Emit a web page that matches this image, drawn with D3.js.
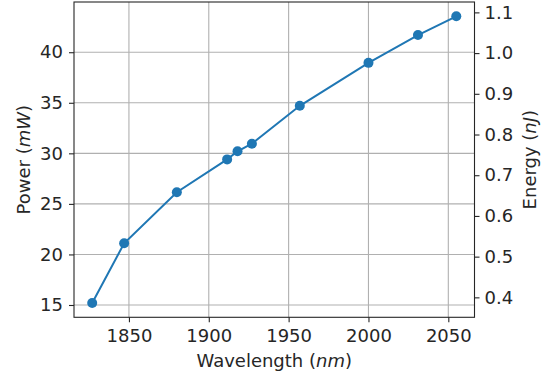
<!DOCTYPE html>
<html><head><meta charset="utf-8">
<script src="https://cdn.jsdelivr.net/npm/d3@7"></script>
<style>body{margin:0;background:#fff}svg{display:block}text{font-family:"DejaVu Sans",sans-serif;fill:#262626}</style>
</head><body>
<script>
const wavelength = [1827, 1847, 1880, 1911.5, 1918, 1927, 1957, 2000, 2031, 2055];
const power = [15.2, 21.1, 26.15, 29.4, 30.2, 30.95, 34.7, 38.95, 41.7, 43.55];
const xTicks = [1850, 1900, 1950, 2000, 2050];
const yTicks = [15, 20, 25, 30, 35, 40];
const eTicks = [0.4, 0.5, 0.6, 0.7, 0.8, 0.9, 1.0, 1.1];

const W = 545, H = 378;
const m = {left: 74, right: 474.5, top: 2, bottom: 317.3};
const svg = d3.select("body").append("svg").attr("width", W).attr("height", H);

const xpad = (d3.max(wavelength) - d3.min(wavelength)) * 0.05;
const x = d3.scaleLinear().domain([d3.min(wavelength) - xpad, d3.max(wavelength) + xpad]).range([m.left, m.right]);
const ypad = (d3.max(power) - d3.min(power)) * 0.05;
const y = d3.scaleLinear().domain([d3.min(power) - ypad, d3.max(power) + ypad]).range([m.bottom, m.top]);
const y2 = d3.scaleLinear().domain([0.351, 1.1255]).range([m.bottom, m.top]);

const grid = svg.append("g").attr("stroke", "#b0b0b0").attr("stroke-width", 1.1);
grid.selectAll(".gx").data(xTicks).join("line").attr("x1", d => x(d)).attr("x2", d => x(d)).attr("y1", m.top).attr("y2", m.bottom);
grid.selectAll(".gy").data(yTicks).join("line").attr("y1", d => y(d)).attr("y2", d => y(d)).attr("x1", m.left).attr("x2", m.right);

const fs = 18;
function style(g){
  g.selectAll("text").style("font-size", fs + "px").attr("fill", "#262626");
  g.selectAll(".tick line").attr("stroke", "#262626").attr("stroke-width", 1.1);
  g.select(".domain").remove();
}
svg.append("g").attr("transform", `translate(0,${m.bottom})`)
  .call(d3.axisBottom(x).tickValues(xTicks).tickSize(5).tickPadding(7).tickFormat(d3.format("d"))).call(style);
svg.append("g").attr("transform", `translate(${m.left},0)`)
  .call(d3.axisLeft(y).tickValues(yTicks).tickSize(5).tickPadding(6).tickFormat(d3.format("d"))).call(style);
svg.append("g").attr("transform", `translate(${m.right},0)`)
  .call(d3.axisRight(y2).tickValues(eTicks).tickSize(5).tickPadding(5).tickFormat(d3.format(".1f"))).call(style);

svg.append("rect").attr("x", m.left).attr("y", m.top).attr("width", m.right - m.left).attr("height", m.bottom - m.top)
  .attr("fill", "none").attr("stroke", "#262626").attr("stroke-width", 1.1);

const pts = wavelength.map((w, i) => [w, power[i]]);
svg.append("path").datum(pts).attr("fill", "none").attr("stroke", "#1f77b4").attr("stroke-width", 2)
  .attr("d", d3.line().x(d => x(d[0])).y(d => y(d[1])));
svg.selectAll(".pt").data(pts).join("circle").attr("cx", d => x(d[0])).attr("cy", d => y(d[1])).attr("r", 5).attr("fill", "#1f77b4");

const xl = svg.append("text").attr("x", (m.left + m.right) / 2).attr("y", 366.5).attr("text-anchor", "middle").style("font-size", fs + "px");
xl.append("tspan").text("Wavelength (");
xl.append("tspan").attr("font-style", "italic").text("nm");
xl.append("tspan").text(")");

const yl = svg.append("text").attr("transform", `translate(30,${(m.top + m.bottom) / 2}) rotate(-90)`).attr("text-anchor", "middle").style("font-size", fs + "px");
yl.append("tspan").text("Power (");
yl.append("tspan").attr("font-style", "italic").text("mW");
yl.append("tspan").text(")");

const el = svg.append("text").attr("transform", `translate(536,${(m.top + m.bottom) / 2}) rotate(-90)`).attr("text-anchor", "middle").style("font-size", fs + "px");
el.append("tspan").text("Energy (");
el.append("tspan").attr("font-style", "italic").text("nJ");
el.append("tspan").text(")");
</script>
</body></html>
